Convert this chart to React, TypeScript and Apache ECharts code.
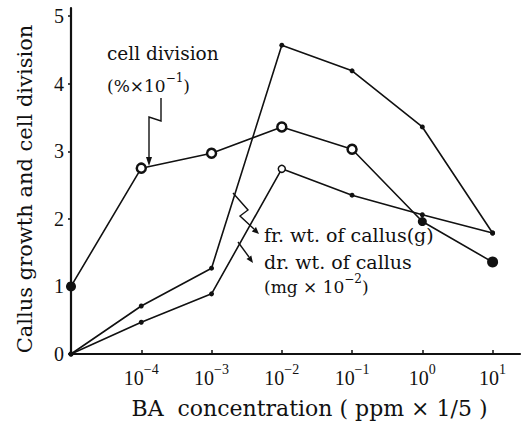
import React, { useEffect, useRef } from "react";
import * as echarts from "echarts";

// x positions are log10(concentration); -5 stands for the zero-concentration control
const xExponents = [-5, -4, -3, -2, -1, 0, 1];
const cellDivision = [1.0, 2.75, 2.97, 3.36, 3.03, 1.96, 1.36];
const freshWeight = [0, 0.71, 1.27, 4.57, 4.19, 3.36, 1.79];
const dryWeight = [0, 0.47, 0.89, 2.74, 2.35, 2.06, 1.79];
const xTickExponents = [-4, -3, -2, -1, 0, 1];
const yTicks = [0, 1, 2, 3, 4, 5];

const SERIF = "DejaVu Serif";
const NUM = "Liberation Serif";
const INK = "#111";

function pairs(ys: number[]) {
  return xExponents.map((x, i) => [x, ys[i]]);
}

export default function App() {
  const ref = useRef<HTMLDivElement>(null);
  useEffect(() => {
    if (!ref.current) return;
    const chart = echarts.init(ref.current, null, { renderer: "svg" });
    const ring = (size: number, bw: number) => ({
      symbolSize: size,
      itemStyle: { color: "#fff", borderColor: INK, borderWidth: bw },
    });
    const dot = (size: number) => ({
      symbolSize: size,
      itemStyle: { color: INK, borderColor: INK, borderWidth: 0 },
    });
    const cellData = pairs(cellDivision).map((p, i) => {
      const filled = i === 0 || i === 5 || i === 6;
      const size = i === 6 ? 11 : i === 0 ? 10 : 9;
      return { value: p, ...(filled ? dot(size) : ring(size, 2.5)) };
    });
    const freshData = pairs(freshWeight).map((p) => ({ value: p, ...dot(5) }));
    const dryData = pairs(dryWeight).map((p, i) => ({
      value: p,
      ...(i === 3 ? ring(7, 1.5) : dot(5)),
    }));

    const lineStyle = { color: INK, width: 1.6 };

    chart.setOption({
      animation: false,
      backgroundColor: "#fff",
      grid: { left: 71, right: 3, top: 8, bottom: 72 },
      xAxis: {
        type: "value",
        min: -5,
        max: 1.39,
        interval: 1,
        splitLine: { show: false },
        axisLine: { onZero: false, lineStyle: { color: INK, width: 2.2 } },
        axisTick: {
          inside: true,
          length: 4,
          customValues: xTickExponents,
          lineStyle: { color: INK, width: 1.5 },
        },
        axisLabel: {
          customValues: xTickExponents,
          margin: 8,
          formatter: (v: number) =>
            `{b|10}{s|${v < 0 ? "\u2212" + -v : v}}`,
          rich: {
            b: {
              fontFamily: NUM,
              fontSize: 20,
              color: INK,
              lineHeight: 26,
              verticalAlign: "bottom",
            },
            s: {
              fontFamily: NUM,
              fontSize: 14,
              color: INK,
              lineHeight: 14,
              verticalAlign: "top",
            },
          },
        },
        name: "BA  concentration ( ppm × 1/5 )",
        nameLocation: "middle",
        nameGap: 43,
        nameTextStyle: {
          fontFamily: SERIF,
          fontSize: 22,
          color: INK,
          padding: [0, 0, 0, 28],
        },
      },
      yAxis: {
        type: "value",
        min: 0,
        max: 5.12,
        interval: 1,
        splitLine: { show: false },
        axisLine: { onZero: false, lineStyle: { color: INK, width: 2.2 } },
        axisTick: {
          length: 3,
          customValues: yTicks,
          lineStyle: { color: INK, width: 1.5 },
        },
        axisLabel: {
          customValues: yTicks,
          margin: 7,
          fontFamily: NUM,
          fontSize: 20,
          color: INK,
        },
        name: "Callus growth and cell division",
        nameLocation: "middle",
        nameGap: 36,
        nameTextStyle: {
          fontFamily: SERIF,
          fontSize: 21,
          color: INK,
          padding: [0, 16, 0, 0],
        },
      },
      series: [
        {
          name: "cell division",
          type: "line",
          symbol: "circle",
          data: cellData,
          lineStyle,
          z: 3,
        },
        {
          name: "fr.wt. of callus",
          type: "line",
          symbol: "circle",
          data: freshData,
          lineStyle,
          z: 2,
        },
        {
          name: "dr.wt. of callus",
          type: "line",
          symbol: "circle",
          data: dryData,
          lineStyle,
          z: 2,
        },
      ],
      graphic: [
        {
          type: "text",
          x: 107,
          y: 53,
          style: {
            text: "cell division",
            fontFamily: SERIF,
            fontSize: 18.5,
            fill: INK,
            verticalAlign: "middle",
          },
        },
        {
          type: "text",
          x: 107,
          y: 83,
          style: {
            text: "{a|(%×10}{s|\u22121}{a|)}",
            verticalAlign: "middle",
            rich: {
              a: { fontFamily: SERIF, fontSize: 17, fill: INK, lineHeight: 22, verticalAlign: "bottom" },
              s: { fontFamily: SERIF, fontSize: 12, fill: INK, lineHeight: 12, verticalAlign: "top" },
            },
          },
        },
        {
          type: "text",
          x: 264,
          y: 235,
          style: {
            text: "fr. wt. of callus(g)",
            fontFamily: SERIF,
            fontSize: 19,
            fill: INK,
            verticalAlign: "middle",
          },
        },
        {
          type: "text",
          x: 264,
          y: 262,
          style: {
            text: "dr. wt. of callus",
            fontFamily: SERIF,
            fontSize: 19,
            fill: INK,
            verticalAlign: "middle",
          },
        },
        {
          type: "text",
          x: 264,
          y: 284,
          style: {
            text: "{a|(mg × 10}{s|\u22122}{a|)}",
            verticalAlign: "middle",
            rich: {
              a: { fontFamily: SERIF, fontSize: 17, fill: INK, lineHeight: 22, verticalAlign: "bottom" },
              s: { fontFamily: SERIF, fontSize: 12, fill: INK, lineHeight: 12, verticalAlign: "top" },
            },
          },
        },
        {
          type: "polyline",
          shape: { points: [[161, 98], [161, 121], [149, 117], [149, 160]] },
          style: { stroke: INK, lineWidth: 1.4, fill: null },
        },
        {
          type: "polygon",
          shape: { points: [[149, 166], [146, 157], [152, 157]] },
          style: { fill: INK },
        },
        {
          type: "polyline",
          shape: { points: [[233, 193], [248, 210], [240, 216], [254, 229]] },
          style: { stroke: INK, lineWidth: 1.4, fill: null },
        },
        {
          type: "polygon",
          shape: { points: [[259, 234], [251.8, 231.4], [256, 227]] },
          style: { fill: INK },
        },
        {
          type: "polyline",
          shape: { points: [[238, 242], [249, 257]] },
          style: { stroke: INK, lineWidth: 1.4, fill: null },
        },
        {
          type: "polygon",
          shape: { points: [[253, 263], [246.5, 259], [251.3, 255.6]] },
          style: { fill: INK },
        },
      ],
    });
    return () => chart.dispose();
  }, []);
  return (
    <div
      ref={ref}
      style={{ position: "fixed", left: 0, top: 0, width: 523, height: 426 }}
    />
  );
}
